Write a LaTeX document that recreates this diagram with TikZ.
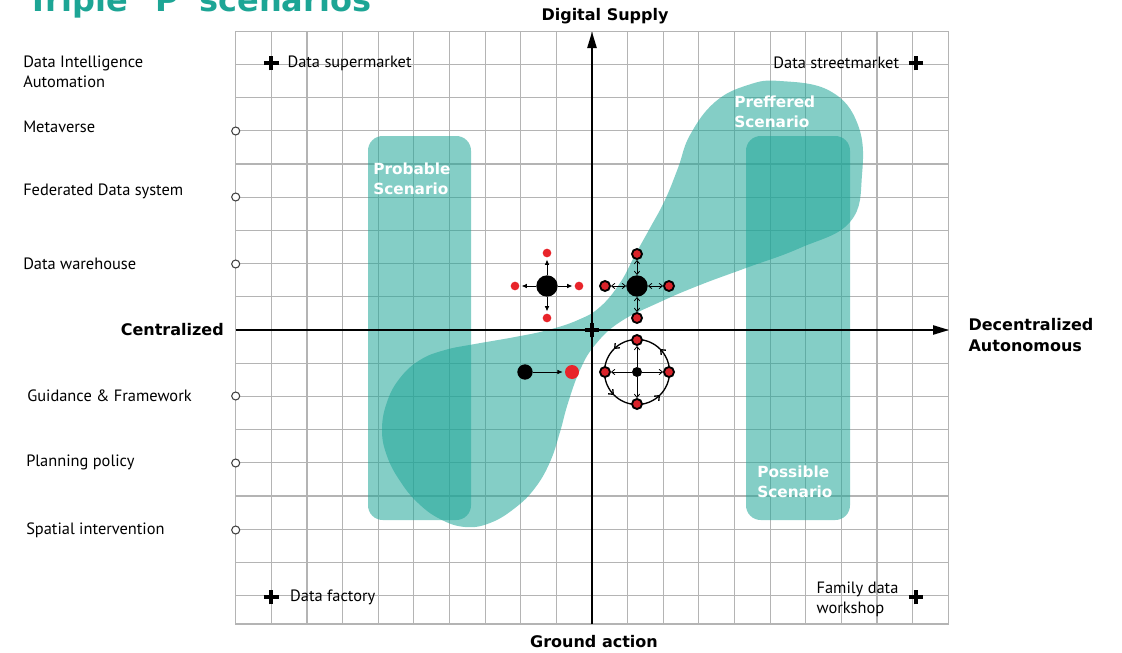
\documentclass[tikz,border=0pt]{standalone}
\usepackage{fontspec}
\setmainfont{PT Sans}
\newfontfamily\heavyfont{DejaVu Sans}
\usepackage{tikz}
\usetikzlibrary{arrows.meta,positioning,calc,decorations.markings}
\definecolor{scenteal}{HTML}{1FA698}
\definecolor{titleteal}{HTML}{1DA595}
\definecolor{gridgray}{HTML}{B4B4B4}
\definecolor{dotred}{HTML}{E8242A}
\definecolor{ringred}{HTML}{D9232A}

\tikzset{
  crossmark/.pic={\draw[line width=3pt] (-5.5pt,0)--(5.5pt,0) (0,-5.5pt)--(0,5.5pt);}
}

\begin{document}
\begin{tikzpicture}[
  x=0.75pt,y=-0.75pt,
  >=Latex,
  gridline/.style={gridgray,line width=0.9pt},
  axisline/.style={-{Triangle[length=12pt,width=7pt]},line width=1.1pt},
  scenario/.style={fill=scenteal,fill opacity=0.55},
  scenlabel/.style={anchor=north west,inner sep=0pt,align=left,text=white,
    font=\heavyfont\bfseries\fontsize{11.5}{15}\selectfont},
  axislabel/.style={inner sep=0pt,align=left,
    font=\heavyfont\bfseries\fontsize{12}{15.5}\selectfont},
  rowlabel/.style={anchor=west,inner sep=0pt,align=left,font=\fontsize{12.3}{15}\selectfont},
  rowmark/.style={circle,draw=black!75,fill=white,line width=0.8pt,inner sep=0pt,
    minimum size=6pt},
  quadlabel/.style={inner sep=0pt,align=left,font=\fontsize{12.3}{15}\selectfont},
  hubdot/.style={circle,fill=black,inner sep=0pt,minimum size=16pt},
  smalldot/.style={circle,fill=black,inner sep=0pt,minimum size=7.5pt},
  reddot/.style={circle,fill=dotred,inner sep=0pt,minimum size=6.5pt},
  ringdot/.style={circle,fill=ringred,draw=black,line width=1.4pt,inner sep=0pt,
    minimum size=7.5pt},
  spoke/.style={-{Latex[length=4pt,width=3.5pt]},line width=0.6pt,shorten >=1.5pt},
  outspoke/.style={-{Straight Barb[length=2.5pt,width=4pt]},line width=0.6pt},
  twoway/.style={{Straight Barb[length=2.5pt,width=4pt]}-{Straight Barb[length=2.5pt,width=4pt]},
    line width=0.6pt}
]
\useasboundingbox (0,0) rectangle (1122,653);
\clip (0,0) rectangle (1122,653);

% grid
\foreach \i in {-10,...,10}
  \draw[gridline] ({592+35.63*\i},31.2) -- ({592+35.63*\i},624);
\foreach \j in {-9,...,8}
  \draw[gridline] (235.7,{330+33.2*\j}) -- (948.3,{330+33.2*\j});
\draw[gridline] (235.7,31.2) rectangle (948.3,624);

% scenario areas
\fill[scenario,rounded corners=11pt] (368,136) rectangle (471,520);
\fill[scenario,rounded corners=11pt] (746,136) rectangle (850,520);
\fill[scenario] plot[smooth cycle,tension=0.7] coordinates {
  (780,81) (830,91) (858,125) (862,175) (850,222) (800,248) (746,268)
  (700,285) (660,302) (620,322) (595,345) (580,370) (568,403) (560,432)
  (550,462) (535,488) (515,508) (490,523) (465,527) (440,519) (418,503)
  (400,481) (387,456) (382,430) (387,402) (400,378) (420,360) (445,350)
  (475,344) (515,337) (548,330) (578,320) (600,307) (620,283) (635,255)
  (650,228) (665,200) (678,168) (690,135) (715,102) (748,85)};

\node[scenlabel] (probable) at (373,163) {Probable\\Scenario};
\node[scenlabel] (preferred) at (734,96) {Preffered\\Scenario};
\node[scenlabel] (possible) at (757,466) {Possible\\Scenario};

% axes
\coordinate (origin) at (592,330);
\coordinate (xstart) at (235.7,330);
\coordinate (xend) at (949,330);
\coordinate (ystart) at (592,624);
\coordinate (yend) at (592,32);
\draw[axisline] (xstart) -- (xend);
\draw[axisline] (ystart) -- (yend);
\pic at (origin) {crossmark};

\node[axislabel] (supply) at (605,16) {Digital Supply};
\node[axislabel] (ground) at (594,642) {Ground action};
\node[axislabel,left=8.8pt of xstart] (central) {Centralized};
\node[axislabel,right=14.5pt of xend,yshift=-4pt] (decentral) {Decentralized\\Autonomous};

% title
\node[anchor=base west,inner sep=0pt,text=titleteal,
  font=\heavyfont\bfseries\fontsize{24}{28}\selectfont] (title) at (27,12)
  {Triple `P' scenarios};

% row labels
\node[rowlabel] (intel) at (23,72) {Data Intelligence\\Automation};
\node[rowlabel] (metav) at (23,127) {Metaverse};
\node[rowlabel] (feder) at (23,191) {Federated Data system};
\node[rowlabel] (wareh) at (23,264) {Data warehouse};
\node[rowlabel] (guide) at (27,396) {Guidance \& Framework};
\node[rowlabel] (policy) at (26,462) {Planning policy};
\node[rowlabel] (spatial) at (26,530) {Spatial intervention};
\foreach \y/\n in {131/m1,197/m2,264/m3,396/m4,463/m5,530/m6}
  \node[rowmark] (\n) at (235.7,\y) {};

% corner markets
\coordinate (supmkt) at (271.3,63);
\coordinate (strmkt) at (916,63);
\coordinate (factory) at (271.3,597);
\coordinate (workshop) at (916,597);
\foreach \c in {supmkt,strmkt,factory,workshop}
  \pic at (\c) {crossmark};
\node[quadlabel,right=12pt of supmkt] (supmktlbl) {Data supermarket};
\node[quadlabel,left=12.5pt of strmkt] (strmktlbl) {Data streetmarket};
\node[quadlabel,right=14pt of factory] (factorylbl) {Data factory};
\node[quadlabel,left=13pt of workshop,yshift=-2pt] (workshoplbl) {Family data\\workshop};

% hub A: spreading out
\node[hubdot] (hubA) at (547,286) {};
\node[reddot] (aN) at (547,253) {};
\node[reddot] (aW) at (515,286) {};
\node[reddot] (aE) at (579,286) {};
\node[reddot] (aS) at (547,318) {};
\foreach \t in {aN,aW,aE,aS}
  \draw[spoke] (hubA) -- (\t);

% hub B: exchange
\node[hubdot] (hubB) at (637,286) {};
\node[ringdot] (bN) at (637,254) {};
\node[ringdot] (bW) at (605,286) {};
\node[ringdot] (bE) at (669,286) {};
\node[ringdot] (bS) at (637,318) {};
\foreach \t in {bN,bW,bE,bS}
  \draw[twoway] (hubB) -- (\t);

% hub C: circulation
\node[smalldot] (hubC) at (637,372) {};
\draw[line width=1pt,postaction={decorate},
  decoration={markings,mark=between positions 0.125 and 1 step 0.25
    with {\arrow{Straight Barb[length=3pt,width=5pt]}}}]
  (hubC) circle[radius=24.4pt];
\node[ringdot] (cN) at (637,340) {};
\node[ringdot] (cW) at (605,372) {};
\node[ringdot] (cE) at (669,372) {};
\node[ringdot] (cS) at (637,404) {};
\foreach \t in {cN,cW,cE,cS}
  \draw[outspoke] (hubC) -- (\t);

% pair D
\node[circle,fill=black,inner sep=0pt,minimum size=11.5pt] (srcD) at (525,372) {};
\node[circle,fill=dotred,inner sep=0pt,minimum size=10.5pt] (dstD) at (572,372) {};
\draw[spoke] (srcD) -- (dstD);
\end{tikzpicture}
\end{document}
